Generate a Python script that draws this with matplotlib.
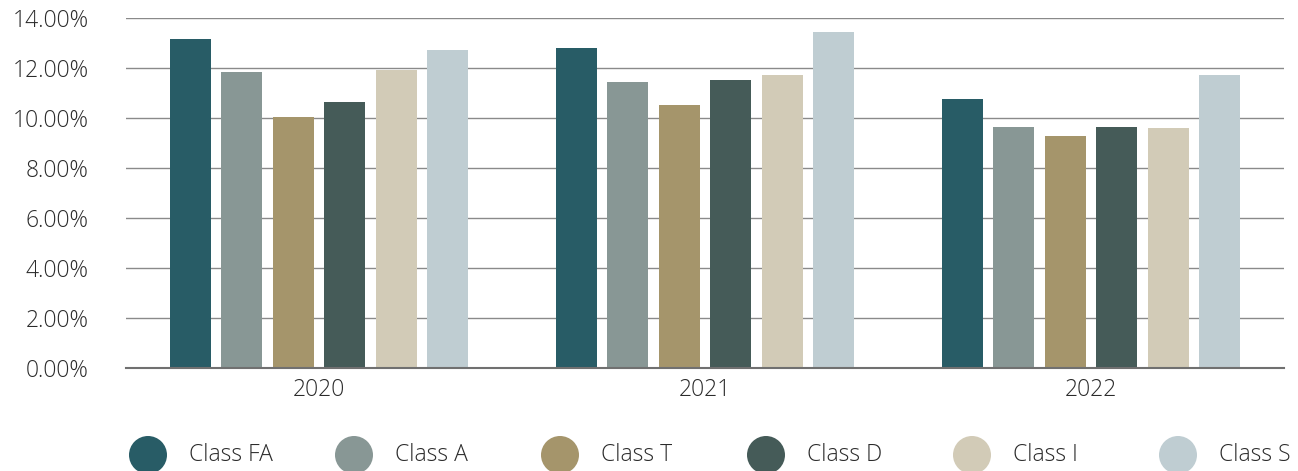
import matplotlib
matplotlib.use("Agg")
import matplotlib.pyplot as plt
from matplotlib.patches import Circle
import numpy as np

years = ["2020", "2021", "2022"]
classes = ["Class FA", "Class A", "Class T", "Class D", "Class I", "Class S"]
class_fa = [13.16, 12.80, 10.76]
class_a = [11.85, 11.45, 9.66]
class_t = [10.06, 10.54, 9.27]
class_d = [10.65, 11.54, 9.66]
class_i = [11.94, 11.74, 9.61]
class_s = [12.72, 13.45, 11.74]
series = [class_fa, class_a, class_t, class_d, class_i, class_s]
colors = ["#285C66", "#889795", "#A5956B", "#455B58", "#D2CBB7", "#BFCDD2"]
yticks = [0, 2, 4, 6, 8, 10, 12, 14]

plt.rcParams['font.family'] = ['Open Sans', 'DejaVu Sans']
plt.rcParams['font.weight'] = 'light'
FS = 16.5
TXT = "#2b2b2b"

fig = plt.figure(figsize=(12.98, 4.71), dpi=100)
ax = fig.add_axes([126/1298, 1 - 368/471, (1284-126)/1298, 350/471])

x = np.arange(len(years))
pitch = 0.1335
width = 0.1065
for i, (vals, c) in enumerate(zip(series, colors)):
    ax.bar(x + (i - 2.5) * pitch, vals, width=width, color=c, zorder=3, label=classes[i])

ax.set_xlim(-0.5, 2.5)
ax.set_ylim(0, 14)
ax.set_yticks(yticks)
ax.set_yticklabels([f"{v:.2f}%" for v in yticks])
ax.set_xticks(x)
ax.set_xticklabels(years)
ax.tick_params(axis='both', length=0, labelsize=FS, colors=TXT)
ax.tick_params(axis='y', pad=27)
ax.tick_params(axis='x', pad=7)
for lbl in ax.get_xticklabels() + ax.get_yticklabels():
    lbl.set_fontweight('light')
for s in ["top", "right", "left"]:
    ax.spines[s].set_visible(False)
ax.spines["bottom"].set_color("#707070")
ax.spines["bottom"].set_linewidth(1.5)
ax.spines["bottom"].set_zorder(4)
ax.yaxis.grid(True, color="#8a8a8a", linewidth=1.0, zorder=0)
ax.set_axisbelow(True)

# legend drawn in pixel coordinates
lax = fig.add_axes([0, 0, 1, 1], zorder=-1)
lax.set_xlim(0, 1298)
lax.set_ylim(471, 0)
lax.axis('off')
for i, (name, c) in enumerate(zip(classes, colors)):
    cx = 148 + 206 * i
    lax.add_patch(Circle((cx, 455), 19, facecolor=c, edgecolor='none'))
    lax.text(cx + 41, 455, name, fontsize=FS, color=TXT, va='center', ha='left',
             fontweight='light')

fig.savefig("out.png", dpi=100)
